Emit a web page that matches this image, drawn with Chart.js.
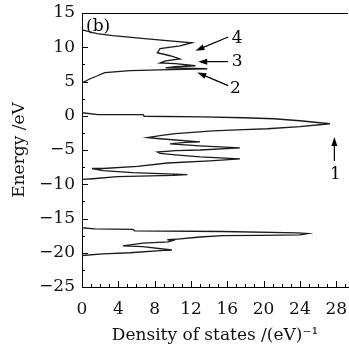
<!DOCTYPE html>
<html>
<head>
<meta charset="utf-8">
<script src="https://cdn.jsdelivr.net/npm/chart.js@4.4.1/dist/chart.umd.min.js"></script>
<style>
  html, body { margin: 0; padding: 0; background: #fff; }
</style>
</head>
<body>
<canvas id="dosChart" width="349" height="344"></canvas>
<script>
// conduction band (top block), energy in eV, DOS in states/eV
const cbEnergy = [15, 12.55, 12.0, 11.7, 11.2, 10.66, 10.2, 9.8, 9.2, 8.76, 8.3, 8.0, 7.7, 7.6, 7.3, 7.15, 7.0, 6.86, 6.7, 6.6, 6.3, 5.8, 5.4, 4.8];
const cbDos    = [0, 0, 1.65, 3.4, 7.5, 12.1, 10.8, 8.6, 8.3, 9.7, 10.8, 9.2, 8.6, 10.3, 12.5, 10.3, 9.2, 13.8, 8.6, 5.3, 2.5, 1.65, 0.9, 0];

// valence band (middle block)
const vbEnergy = [0.44, 0.15, 0.15, -0.07, -0.15, -0.29, -0.44, -0.73, -1.17, -1.6, -1.9, -2.04, -2.2, -2.6, -2.9, -3.2, -3.36, -3.8, -3.9, -4.1, -4.4, -4.7, -5.0, -5.1, -5.3, -5.5, -5.7, -6.0, -6.3, -6.6, -6.9, -7.4, -7.7, -7.7, -8.0, -8.3, -8.6, -8.7, -8.9, -9.2, -9.3];
const vbDos    = [0, 1.76, 6.73, 6.84, 13.3, 17.8, 21.1, 24.0, 27.3, 24.0, 20.4, 17.8, 14.4, 10.3, 8.6, 7.2, 8.6, 13.0, 11.4, 9.7, 13.0, 17.4, 13.0, 10.3, 8.3, 8.6, 10.3, 13.0, 17.4, 14.1, 9.4, 6.1, 2.3, 1.1, 2.3, 5.6, 11.6, 10.0, 3.9, 1.2, 0];

// low lying band (bottom block)
const lowEnergy = [-16.35, -16.5, -16.6, -16.8, -16.9, -17.1, -17.2, -17.4, -17.45, -17.5, -17.7, -18.0, -18.1, -18.2, -18.4, -18.6, -19.0, -19.1, -19.6, -19.7, -20.0, -20.15, -20.4, -25];
const lowDos    = [0, 1.4, 5.6, 5.8, 15.5, 23.7, 24.9, 24.0, 19.6, 15.5, 13.0, 10.5, 9.4, 10.0, 9.5, 6.7, 4.5, 6.7, 9.9, 8.6, 5.3, 2.3, 0, 0];

// numbered markers: label position and arrow (from -> to), data units
const noteText  = ['1', '2', '3', '4'];
const noteX     = [27.9, 16.9, 17.1, 17.1];
const noteY     = [-8.6, 3.9, 7.9, 11.2];
const arrowFrom = [[27.8, -6.6], [16.1, 4.4], [16.1, 7.9], [16.1, 11.5]];
const arrowTo   = [[27.8, -3.1], [12.7, 6.3], [12.8, 7.9], [12.5, 9.5]];

const serif = "'DejaVu Serif', 'Liberation Serif', serif";

const points = [];
[[cbDos, cbEnergy], [vbDos, vbEnergy], [lowDos, lowEnergy]].forEach(([d, e]) => {
  d.forEach((v, i) => points.push({ x: v, y: e[i] }));
});

const extras = {
  id: 'extras',
  afterDraw(chart) {
    const { ctx, chartArea: a, scales: { x, y } } = chart;
    ctx.save();
    ctx.strokeStyle = '#000';
    ctx.lineWidth = 1;
    ctx.beginPath();
    // top frame
    ctx.moveTo(a.left, a.top + 0.5);
    ctx.lineTo(a.right, a.top + 0.5);
    // x ticks (inward)
    for (let v = 0; v <= 29; v++) {
      const px = Math.round(x.getPixelForValue(v)) + 0.5;
      ctx.moveTo(px, a.bottom);
      ctx.lineTo(px, a.bottom - (v % 4 === 0 ? 6 : 3));
    }
    // y ticks
    for (let v = -25; v <= 15; v += 2.5) {
      const py = Math.round(y.getPixelForValue(v)) + 0.5;
      ctx.moveTo(a.left, py);
      ctx.lineTo(a.left + (v % 5 === 0 ? 6 : 3), py);
    }
    ctx.stroke();

    // arrows
    ctx.fillStyle = '#000';
    arrowFrom.forEach((f, i) => {
      const x0 = x.getPixelForValue(f[0]), y0 = y.getPixelForValue(f[1]);
      const x1 = x.getPixelForValue(arrowTo[i][0]), y1 = y.getPixelForValue(arrowTo[i][1]);
      const ang = Math.atan2(y1 - y0, x1 - x0);
      ctx.beginPath();
      ctx.lineWidth = 1.2;
      ctx.moveTo(x0, y0);
      ctx.lineTo(x1 - 6 * Math.cos(ang), y1 - 6 * Math.sin(ang));
      ctx.stroke();
      ctx.beginPath();
      ctx.moveTo(x1, y1);
      ctx.lineTo(x1 - 9 * Math.cos(ang) + 3 * Math.sin(ang), y1 - 9 * Math.sin(ang) - 3 * Math.cos(ang));
      ctx.lineTo(x1 - 9 * Math.cos(ang) - 3 * Math.sin(ang), y1 - 9 * Math.sin(ang) + 3 * Math.cos(ang));
      ctx.closePath();
      ctx.fill();
    });

    ctx.font = '17px ' + serif;
    ctx.textAlign = 'center';
    ctx.textBaseline = 'middle';
    noteText.forEach((t, i) => {
      ctx.fillText(t, x.getPixelForValue(noteX[i]), y.getPixelForValue(noteY[i]));
    });
    ctx.textAlign = 'left';
    ctx.fillText('(b)', a.left + 4, a.top + 14);
    ctx.restore();
  }
};

new Chart(document.getElementById('dosChart'), {
  type: 'scatter',
  data: {
    datasets: [{
      data: points,
      showLine: true,
      borderColor: '#1a1a1a',
      borderWidth: 1.3,
      pointRadius: 0,
      tension: 0,
      fill: false
    }]
  },
  options: {
    responsive: false,
    animation: false,
    layout: { padding: { top: 13, right: 1, left: 0, bottom: 0 } },
    plugins: { legend: { display: false }, tooltip: { enabled: false } },
    scales: {
      x: {
        type: 'linear',
        min: 0,
        max: 29.3,
        grid: { display: false, drawTicks: false },
        border: { display: true, color: '#000', width: 1 },
        ticks: {
          stepSize: 4,
          includeBounds: false,
          autoSkip: false,
          maxRotation: 0,
          padding: 12,
          color: '#111',
          font: { family: serif, size: 17 }
        },
        title: {
          display: true,
          text: 'Density of states /(eV)\u207B\u00B9',
          color: '#111',
          font: { family: serif, size: 17, lineHeight: 1 },
          padding: { top: 0, bottom: 0 }
        },
        afterFit: s => { s.height = 57; s.paddingLeft = 0; s.paddingRight = 0; }
      },
      y: {
        type: 'linear',
        min: -25,
        max: 15,
        grid: { display: false, drawTicks: false },
        border: { display: true, color: '#000', width: 1 },
        ticks: {
          stepSize: 5,
          padding: 7,
          color: '#111',
          font: { family: serif, size: 17 },
          callback: v => String(v).replace('-', '\u2212')
        },
        title: {
          display: true,
          text: 'Energy /eV',
          color: '#111',
          font: { family: serif, size: 17, lineHeight: 1 },
          padding: { top: 11, bottom: 0 }
        },
        afterFit: s => { s.width = 82; s.paddingTop = 0; s.paddingBottom = 0; }
      }
    }
  },
  plugins: [extras]
});
</script>
</body>
</html>
